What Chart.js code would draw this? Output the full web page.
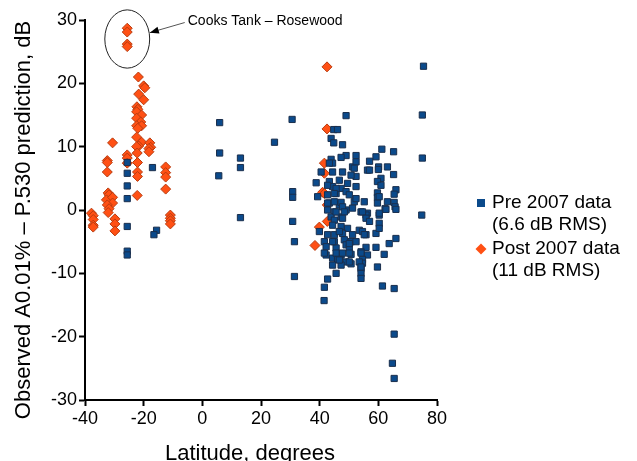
<!DOCTYPE html>
<html><head><meta charset="utf-8">
<script src="https://cdn.jsdelivr.net/npm/chart.js@4.4.0/dist/chart.umd.min.js"></script>
<style>html,body{margin:0;padding:0;background:#fff;}#wrap{width:637px;height:461px;}</style>
</head><body><div id="wrap"><canvas id="c" width="637" height="461"></canvas></div>
<script>
const seriesNames = ['Pre 2007 data', 'Post 2007 data'];
const seriesNotes = ['(6.6 dB RMS)', '(11 dB RMS)'];
const xTicks = [-40, -20, 0, 20, 40, 60, 80];
const yTicks = [-30, -20, -10, 0, 10, 20, 30];
const axisTitles = { x: 'Latitude, degrees', y: 'Observed A0.01% – P.530 prediction, dB' };

// [latitude, observed - predicted (dB)]
const prePoints = [
  [-25.6,7.5],[-25.6,5.8],[-25.6,3.8],[-25.6,1.8],[-25.6,-2.6],[-25.6,-6.5],[-25.6,-7.1],
  [-17.0,6.7],[-15.6,-3.2],[-16.5,-3.9],[5.9,9.0],[5.6,5.4],[13.0,8.2],[13.0,6.7],[13.0,-1.2],
  [5.9,13.8],[24.6,10.7],[30.6,14.3],[30.8,2.9],[30.8,2.0],[30.8,-1.8],[31.4,-5.0],[31.4,-10.5],
  [75.4,22.7],[75.0,15.0],[75.0,8.2],[74.8,-0.8],[49.0,14.9],
  [44.8,12.7],[46.1,12.7],[43.9,11.3],[44.8,10.6],[47.8,10.3],[61.2,9.6],[65.2,9.2],[52.4,8.6],
  [49.0,8.6],[47.3,8.3],[59.2,8.4],[57.0,7.7],[43.9,8.0],[44.4,7.4],[60.1,6.8],[63.1,6.8],[51.2,6.8],
  [52.4,7.6],[43.3,7.4],[40.5,6.0],[44.4,6.0],[47.8,6.0],[51.8,6.6],[56.3,6.3],[38.8,4.3],[43.3,4.5],
  [46.7,4.7],[49.5,4.2],[52.4,5.3],[44.4,3.7],[47.3,3.4],[49.0,2.9],[39.3,2.1],[42.7,2.4],[45.6,2.6],
  [50.1,2.4],[51.8,1.3],[55.2,1.3],[43.3,1.1],[46.7,0.8],[42.7,0.0],[45.0,-0.3],[49.0,0.0],[51.2,0.3],
  [54.1,-0.3],[56.3,-0.5],[43.9,-1.1],[47.3,-1.1],
  [57.0,6.3],[60.0,6.4],[65.2,5.6],[60.9,5.0],[59.7,4.5],[60.9,3.9],[66.0,3.2],[59.7,2.7],[65.4,2.5],
  [59.7,2.0],[63.1,1.3],[65.4,1.2],[59.7,1.1],[65.7,0.5],[62.3,0.2],[55.8,-0.8],[60.3,-0.8],
  [42.7,3.9],[50.7,5.5],[52.4,3.7],[45.6,3.4],[45.0,2.6],[52.4,1.8],[60.3,2.1],[66.0,0.1],[42.7,1.1],
  [45.0,1.3],[47.3,1.2],[47.8,0.5],[45.6,-0.3],[48.4,-0.3],[54.6,-0.3],[60.3,-0.5],[62.6,0.1],
  [45.0,-1.6],[47.8,-1.3],[55.8,-1.3],[57.0,-1.8],[60.3,-2.1],[44.4,-2.4],[47.3,-2.6],[49.5,-2.9],
  [53.5,-3.2],[54.6,-3.4],[59.2,-3.7],[60.3,-2.9],[39.9,-3.4],[42.7,-3.9],[45.0,-3.9],[47.8,-3.7],
  [51.2,-3.9],[55.8,-3.9],[66.0,-4.5],[48.4,-4.7],[50.7,-5.0],[63.7,-5.3],[41.6,-5.0],[45.0,-5.0],
  [42.2,-5.8],[45.6,-6.0],[49.0,-5.5],[50.1,-6.0],[55.8,-5.9],[59.2,-5.9],[54.1,-6.6],[42.2,-7.1],
  [47.3,-7.1],[50.7,-7.0],[56.3,-7.1],[62.0,-7.0],[44.4,-7.6],[46.1,-7.8],[49.0,-8.2],[54.6,-7.8],
  [44.4,-8.7],[47.3,-8.7],[50.7,-8.5],[54.6,-8.4],[59.7,-9.0],[54.1,-9.2],[45.6,-10.0],[54.1,-10.0],
  [54.1,-10.8],[42.7,-10.9],[41.6,-12.2],[61.4,-12.0],[65.4,-12.4],
  [46.7,-3.4],[55.2,-3.9],[44.4,-5.0],[50.1,-5.3],[52.4,-5.0],[41.6,-6.8],[45.6,-6.8],[47.8,-6.8],
  [50.1,-6.8],[54.1,-6.8],[46.7,-7.9],[50.1,-8.2],[53.5,-8.2],[54.1,-9.0],[41.5,-14.3],
  [65.4,-19.6],[64.8,-24.2],[65.4,-26.6]
];

const postPoints = [
  [-25.6,28.7],[-25.6,28.1],[-25.6,26.2],[-25.6,25.8],
  [-21.8,21.0],[-20.0,19.6],[-19.6,19.3],[-21.7,18.3],[-20.0,17.4],[-22.3,16.3],[-22.0,15.9],
  [-22.4,15.5],[-20.7,15.0],[-22.4,14.5],[-21.0,13.9],[-22.4,13.3],[-20.7,13.3],[-22.0,12.9],
  [-22.4,11.5],[-20.7,10.7],[-21.7,10.1],[-17.9,10.6],[-17.6,9.9],[-30.6,10.6],[-22.4,10.0],
  [-18.2,9.7],[-18.2,9.2],[-25.6,8.7],[-25.6,8.2],[-25.6,7.4],[-32.4,7.8],[-32.4,7.5],[-32.4,6.0],
  [-22.2,9.0],[-22.1,7.5],[-22.1,6.0],[-22.1,5.3],[-22.2,2.3],[-12.5,6.8],[-12.5,5.9],[-12.5,5.2],
  [-12.5,3.3],[-32.1,2.7],[-31.8,2.4],[-32.7,1.6],[-30.6,2.0],[-30.6,1.1],[-32.4,0.8],[-31.8,0.2],
  [-32.1,-0.4],[-37.8,-0.5],[-37.2,-0.9],[-37.2,-1.5],[-37.2,-2.4],[-37.2,-2.7],[-29.8,-1.4],
  [-29.8,-2.2],[-29.8,-3.3],[-10.9,-0.8],[-10.9,-1.3],[-10.9,-1.7],[-10.9,-2.2],
  [42.5,22.6],[42.5,12.8],[41.6,7.4],[41.6,5.8],[41.0,2.8],[41.6,2.6],[42.6,0.8],[42.6,-1.8],
  [39.9,-2.7],[38.4,-5.6]
];

// callout around the Cooks Tank – Rosewood points (data units)
const callout = { text: 'Cooks Tank – Rosewood', cx: -25.6, cy: 27.0, rx: 7.65, ry: 4.6,
  tailX: -6.0, tailY: 29.6, tipX: -17.9, tipY: 28.0 };

const FONT = '"Liberation Sans", Arial, Helvetica, sans-serif';
const preColor = '#0b4a8b', preBorder = '#1a2f4d';
const postColor = '#ff5014', postBorder = '#b83c10';

const overlay = {
  id: 'overlay',
  afterDraw(chart) {
    const { ctx, scales: { x, y } } = chart;
    ctx.save();
    // ellipse
    const cx = x.getPixelForValue(callout.cx), cy = y.getPixelForValue(callout.cy);
    const rx = Math.abs(x.getPixelForValue(callout.cx + callout.rx) - cx);
    const ry = Math.abs(y.getPixelForValue(callout.cy + callout.ry) - cy);
    ctx.beginPath(); ctx.ellipse(cx, cy, rx, ry, 0, 0, Math.PI * 2);
    ctx.lineWidth = 1; ctx.strokeStyle = '#222'; ctx.stroke();
    // arrow
    const tx = x.getPixelForValue(callout.tailX), ty = y.getPixelForValue(callout.tailY);
    const hx = x.getPixelForValue(callout.tipX), hy = y.getPixelForValue(callout.tipY);
    ctx.beginPath(); ctx.moveTo(tx, ty); ctx.lineTo(hx, hy); ctx.strokeStyle = '#555'; ctx.stroke();
    const a = Math.atan2(hy - ty, hx - tx), L = 9, W = 3.5;
    ctx.beginPath(); ctx.moveTo(hx, hy);
    ctx.lineTo(hx - L * Math.cos(a) + W * Math.sin(a), hy - L * Math.sin(a) - W * Math.cos(a));
    ctx.lineTo(hx - L * Math.cos(a) - W * Math.sin(a), hy - L * Math.sin(a) + W * Math.cos(a));
    ctx.closePath(); ctx.fillStyle = '#000'; ctx.fill();
    ctx.font = '14px ' + FONT; ctx.textBaseline = 'middle'; ctx.textAlign = 'left';
    ctx.fillText(callout.text, tx + 3, ty - 1);

    // axis titles
    ctx.fillStyle = '#000';
    ctx.font = '22px ' + FONT; ctx.textAlign = 'center'; ctx.textBaseline = 'alphabetic';
    ctx.fillText(axisTitles.x, 250, 460);
    ctx.save(); ctx.translate(30, 220); ctx.rotate(-Math.PI / 2);
    ctx.fillText(axisTitles.y, 0, 0); ctx.restore();

    // legend
    const mx = 481, tx0 = 492, rows = [203, 225, 249, 271];
    ctx.fillStyle = preColor; ctx.fillRect(mx - 4, rows[0] - 4, 8, 8);
    ctx.beginPath(); ctx.moveTo(mx, rows[2] - 5.5); ctx.lineTo(mx + 5.5, rows[2]); ctx.lineTo(mx, rows[2] + 5.5);
    ctx.lineTo(mx - 5.5, rows[2]); ctx.closePath(); ctx.fillStyle = postColor; ctx.fill();
    ctx.fillStyle = '#000'; ctx.font = '19px ' + FONT; ctx.textAlign = 'left'; ctx.textBaseline = 'middle';
    ctx.fillText(seriesNames[0], tx0, rows[0]);
    ctx.fillText(seriesNotes[0], tx0, rows[1]);
    ctx.fillText(seriesNames[1], tx0, rows[2]);
    ctx.fillText(seriesNotes[1], tx0, rows[3]);
    ctx.restore();
  }
};

const axisCommon = {
  type: 'linear',
  border: { display: true, color: '#000', width: 2 },
  grid: { drawOnChartArea: false, drawTicks: true, tickLength: 6, tickColor: '#000', tickWidth: 2 },
  ticks: { color: '#000', font: { family: FONT, size: 18 }, padding: 2 },
  title: { display: false }
};

new Chart(document.getElementById('c'), {
  type: 'scatter',
  data: {
    datasets: [
      { label: seriesNames[0], data: prePoints.map(p => ({ x: p[0], y: p[1] })),
        pointStyle: 'rect', radius: 4.4, backgroundColor: preColor, borderColor: preBorder, borderWidth: 1 },
      { label: seriesNames[1], data: postPoints.map(p => ({ x: p[0], y: p[1] })),
        pointStyle: 'rectRot', radius: 5, backgroundColor: postColor, borderColor: postBorder, borderWidth: 1 }
    ]
  },
  options: {
    responsive: false, animation: false, devicePixelRatio: 1,
    layout: { padding: { left: 0, right: 200, top: 20, bottom: 0 } },
    plugins: { legend: { display: false }, tooltip: { enabled: false } },
    scales: {
      x: Object.assign({}, axisCommon, {
        min: xTicks[0], max: xTicks[xTicks.length - 1],
        afterBuildTicks: s => { s.ticks = xTicks.map(v => ({ value: v })); },
        afterFit: s => { s.height = 61; }
      }),
      y: Object.assign({}, axisCommon, {
        min: yTicks[0], max: yTicks[yTicks.length - 1],
        afterBuildTicks: s => { s.ticks = yTicks.map(v => ({ value: v })); },
        afterFit: s => { s.width = 85; }
      })
    }
  },
  plugins: [overlay]
});
</script></body></html>
